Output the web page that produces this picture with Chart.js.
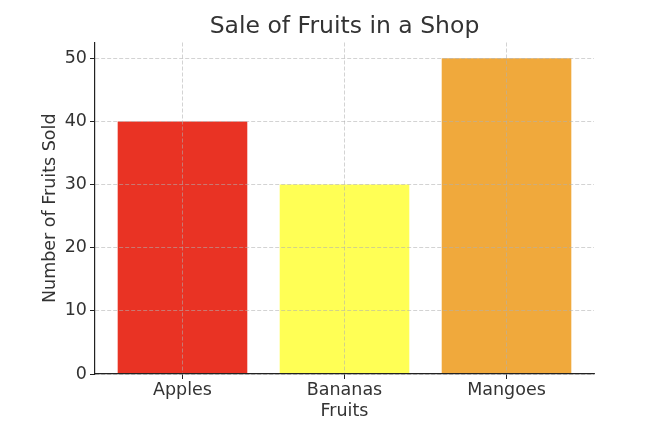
<!DOCTYPE html>
<html>
<head>
<meta charset="utf-8">
<script src="https://cdn.jsdelivr.net/npm/chart.js@4"></script>
<style>
  html, body { margin: 0; padding: 0; background: #fff; }
  #wrap { width: 654px; height: 428px; }
</style>
</head>
<body>
<div id="wrap"><canvas id="grafico"></canvas></div>
<script>
// Dados do gráfico
const frutas = ['Apples', 'Bananas', 'Mangoes'];
const vendidos = [40, 30, 50];
const cores = ['#e93324', '#ffff55', '#f0a93c'];
const ticksY = [0, 10, 20, 30, 40, 50];

const fonte = "'DejaVu Sans', sans-serif";
const corTexto = '#333333';
const corGrade = 'rgba(176, 176, 176, 0.7)';

const pontos = frutas.map((f, i) => ({ x: i, y: vendidos[i] }));

// Centraliza o título sobre a área do gráfico (como no matplotlib)
const tituloCentrado = {
    id: 'tituloCentrado',
    afterLayout(chart) {
        const t = chart.titleBlock;
        if (!t) return;
        t.left = chart.chartArea.left;
        t.right = chart.chartArea.right;
        t.width = t.right - t.left;
    }
};

const ctx = document.getElementById('grafico').getContext('2d');
const grafico = new Chart(ctx, {
    type: 'bar',
    data: {
        datasets: [{
            data: pontos,
            backgroundColor: cores,
            borderWidth: 0,
            barPercentage: 0.8,
            categoryPercentage: 1.0
        }]
    },
    options: {
        responsive: true,
        maintainAspectRatio: false,
        animation: false,
        layout: { padding: { left: 0, right: 60, top: 0, bottom: 0 } },
        plugins: {
            legend: { display: false },
            tooltip: { enabled: false },
            title: {
                display: true,
                text: 'Sale of Fruits in a Shop',
                color: corTexto,
                font: { size: 23.5, family: fonte, weight: 'normal' },
                padding: { top: 13, bottom: 1.3 }
            }
        },
        scales: {
            x: {
                type: 'linear',
                min: -0.54,
                max: 2.54,
                offset: false,
                afterBuildTicks: (scale) => {
                    scale.ticks = frutas.map((f, i) => ({ value: i }));
                },
                afterFit: (scale) => { scale.height = 54; },
                ticks: {
                    color: corTexto,
                    font: { size: 17.5, family: fonte },
                    padding: 1,
                    maxRotation: 0,
                    callback: (v) => frutas[v]
                },
                grid: {
                    z: 1,
                    offset: false,
                    color: corGrade,
                    lineWidth: 0.8,
                    tickLength: 5,
                    tickColor: '#222',
                    tickWidth: 1,
                    tickBorderDash: []
                },
                border: { display: true, color: '#222', width: 1.2, dash: [4, 2], z: 2 },
                title: {
                    display: true,
                    text: 'Fruits',
                    color: corTexto,
                    font: { size: 17.5, family: fonte },
                    padding: { top: 0, bottom: 6 }
                }
            },
            y: {
                type: 'linear',
                min: 0,
                max: 52.5,
                afterBuildTicks: (scale) => {
                    scale.ticks = ticksY.map(v => ({ value: v }));
                },
                afterFit: (scale) => { scale.width = 95; },
                ticks: {
                    color: corTexto,
                    font: { size: 17.5, family: fonte },
                    padding: 3
                },
                grid: {
                    z: 1,
                    color: corGrade,
                    lineWidth: 0.8,
                    tickLength: 5,
                    tickColor: '#222',
                    tickWidth: 1,
                    tickBorderDash: []
                },
                border: { display: true, color: '#222', width: 1.2, dash: [4, 2], z: 2 },
                title: {
                    display: true,
                    text: 'Number of Fruits Sold',
                    color: corTexto,
                    font: { size: 17.5, family: fonte },
                    padding: { top: 40, bottom: 0 }
                }
            }
        }
    },
    plugins: [tituloCentrado]
});
</script>
</body>
</html>
